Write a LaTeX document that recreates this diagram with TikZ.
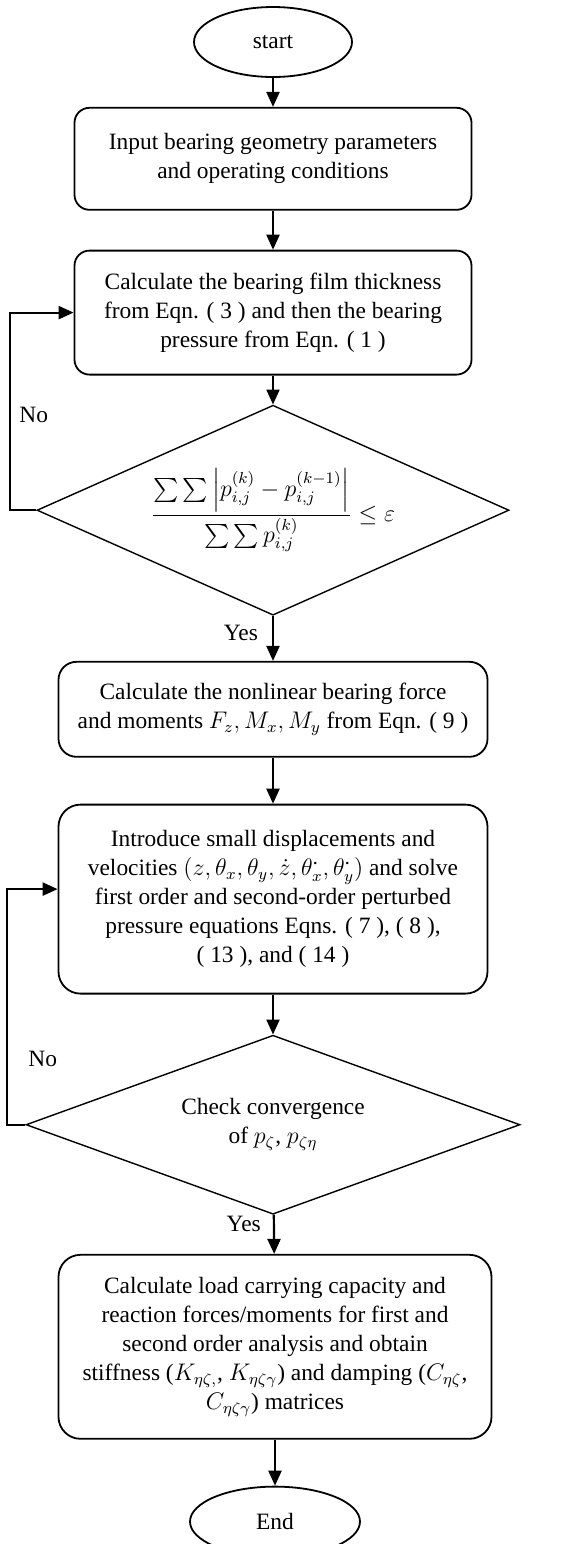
\documentclass[tikz,border=0pt]{standalone}
\usepackage{amsmath}
\usepackage{fontspec}
\setmainfont{Liberation Serif}
\usetikzlibrary{arrows.meta,positioning,shapes.geometric}
\newcommand{\chartfont}{\fontsize{11.7pt}{14.5pt}\selectfont}
\newcommand{\rate}[2]{{#1}^{\boldsymbol{\cdot}}_{#2}}
\tikzset{
  term/.style={ellipse, draw, line width=0.9pt, inner sep=0pt, font=\chartfont},
  proc/.style={draw, rounded corners=7.5pt, line width=0.9pt, align=center,
    inner sep=0pt, font=\chartfont},
  test/.style={diamond, draw, line width=0.7pt, aspect=2.2, inner sep=0pt,
    align=center, font=\chartfont},
  flow/.style={-{Triangle[length=7.5pt,width=6.5pt]}, line width=1.1pt},
  ans/.style={font=\chartfont, inner sep=0pt},
}

\begin{document}
\begin{tikzpicture}
  \useasboundingbox (0,0) rectangle (283pt,-772pt);
  \node[term, minimum width=79pt, minimum height=35pt] (start) at (136.5pt,-21pt) {start};
  \node[proc, minimum width=198.5pt, minimum height=51pt, below=14.5pt of start] (input)
    {Input bearing geometry parameters\\and operating conditions};
  \node[proc, minimum width=198.5pt, minimum height=62pt, below=19.5pt of input] (film)
    {Calculate the bearing film thickness\\from Eqn. ( 3 ) and then the bearing\\pressure from Eqn. ( 1 )};
  \node[test, minimum width=236pt, minimum height=105pt, below=14.5pt of film] (conv)
    {$\dfrac{\sum\sum\left|p_{i,j}^{(k)}-p_{i,j}^{(k-1)}\right|}{\sum\sum p_{i,j}^{(k)}}\le\varepsilon$};
  \node[proc, rounded corners=9pt, minimum width=214.5pt, minimum height=47.5pt, below=22.5pt of conv] (force)
    {Calculate the nonlinear bearing force\\and moments $F_z, M_x, M_y$ from Eqn. ( 9 )};
  \node[proc, rounded corners=11pt, minimum width=214.5pt, minimum height=94.5pt, below=23pt of force] (perturb)
    {Introduce small displacements and\\velocities $(z,\theta_x,\theta_y,\dot{z},\rate{\theta}{x},\rate{\theta}{y})$ and solve\\first order and second-order perturbed\\pressure equations Eqns. ( 7 ), ( 8 ),\\( 13 ), and ( 14 )};
  \node[test, minimum width=247pt, minimum height=89.5pt, below=20pt of perturb] (check)
    {Check convergence\\of $p_{\zeta}$, $p_{\zeta\eta}$};
  \node[proc, rounded corners=11pt, minimum width=216.5pt, minimum height=92pt, below=19.5pt of check, xshift=1pt] (coef)
    {Calculate load carrying capacity and\\reaction forces/moments for first and\\second order analysis and obtain\\stiffness ($K_{\eta\zeta,}$, $K_{\eta\zeta\gamma}$) and damping ($C_{\eta\zeta}$,\\$C_{\eta\zeta\gamma}$) matrices};
  \node[term, minimum width=85pt, minimum height=35pt, below=23pt of coef] (end) {End};
  % main line
  \draw[flow] (start) -- (input);
  \draw[flow] (input) -- (film);
  \draw[flow] (film) -- (conv);
  \draw[flow] (conv) -- node[ans, left=7pt, pos=0.38] (yes1) {Yes} (force);
  \draw[flow] (force) -- (perturb);
  \draw[flow] (perturb) -- (check);
  \draw[flow] (check) -- node[ans, left=6pt, pos=0.25] (yes2) {Yes} (coef);
  \draw[flow] (coef) -- (end);
  % loops back
  \draw[flow] (conv.west) -- ++(-13pt,0) |- node[ans, right=4pt, pos=0.24] (no1) {No} (film.west);
  \draw[flow] (check.west) -- ++(-9pt,0) |- node[ans, right=10pt, pos=0.14] (no2) {No} ([yshift=5pt]perturb.west);
\end{tikzpicture}
\end{document}
